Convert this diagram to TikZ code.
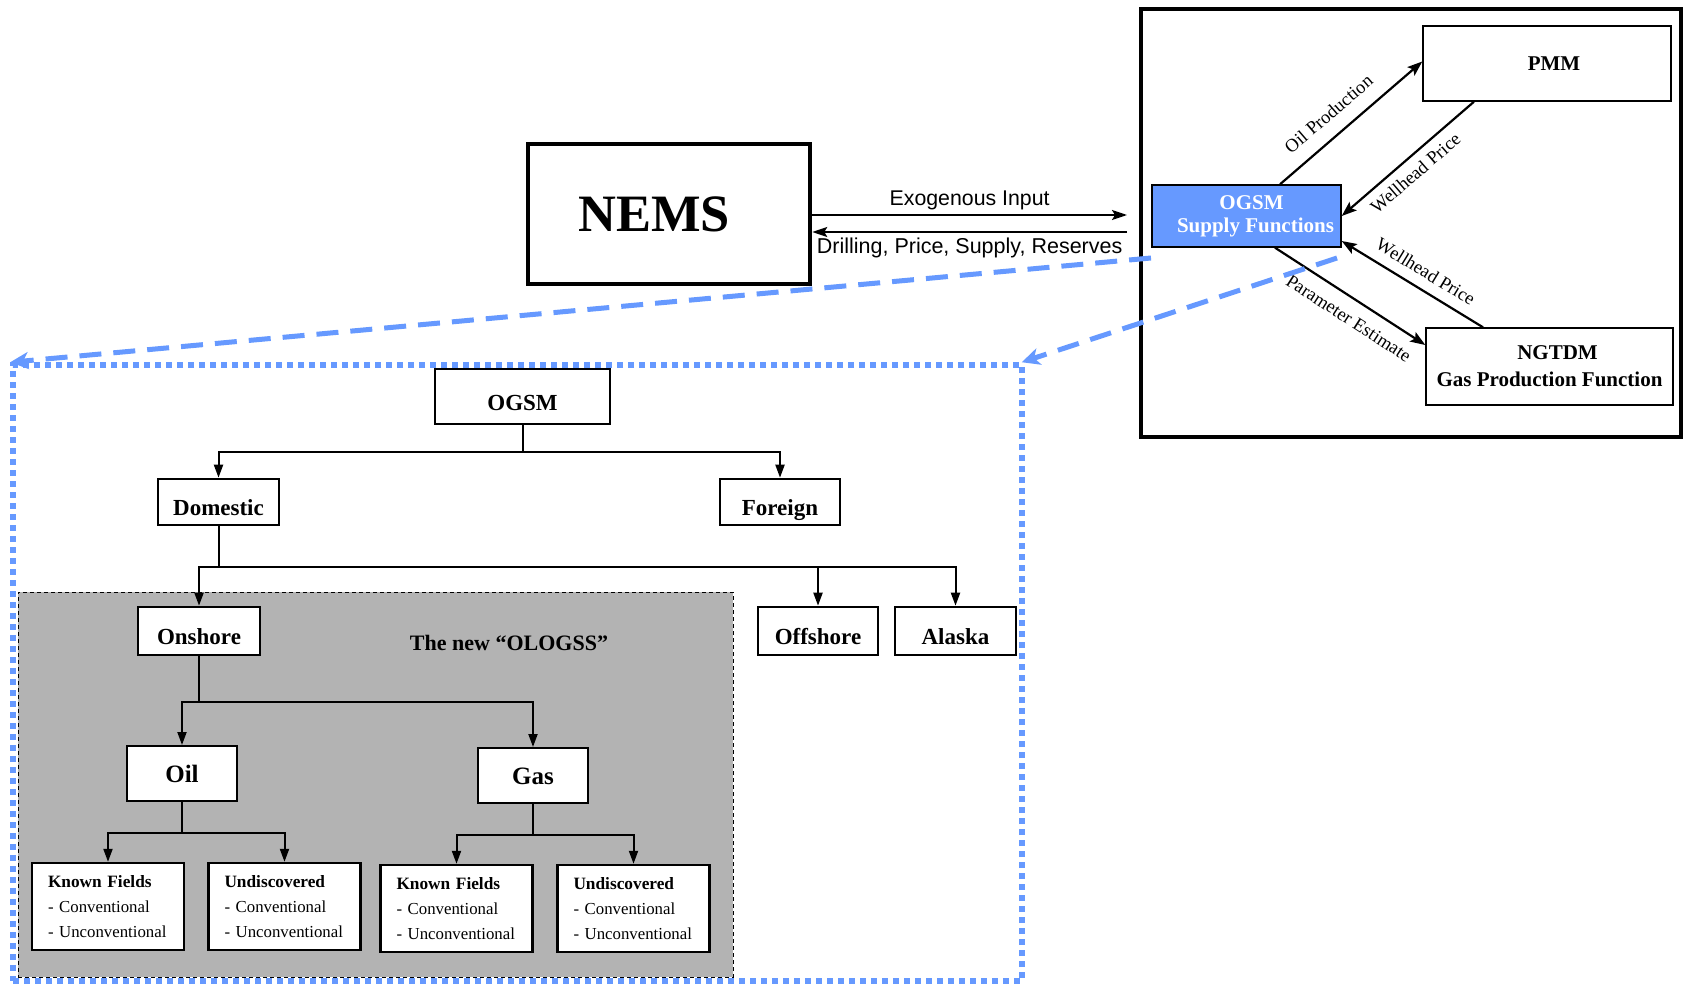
\documentclass[tikz,border=0pt]{standalone}
\usepackage{fontspec}
\setmainfont{Liberation Serif}
\newfontfamily\helv{Liberation Sans}
\usetikzlibrary{arrows.meta}
\definecolor{bblue}{HTML}{6699FF}
\definecolor{gbox}{HTML}{B3B3B3}
\begin{document}
\begin{tikzpicture}[x=1pt,y=-1pt,
  tbox/.style={draw, line width=2.6pt, fill=white, inner sep=0pt, font=\bfseries\fontsize{23}{26}\selectfont, text height=27pt, text depth=0pt},
  obox/.style={draw, line width=2pt, fill=white, inner sep=0pt, font=\bfseries\fontsize{25}{28}\selectfont, text height=17pt, text depth=0pt},
  leaf/.style={draw, line width=2.4pt, fill=white, inner xsep=16pt, inner ysep=0pt, align=left, text width=120pt, minimum width=152pt, minimum height=87pt, font=\fontsize{16.8}{24.7}\selectfont},
  rbox/.style={draw, line width=1.4pt, fill=white, inner sep=0pt, font=\bfseries\fontsize{21}{27}\selectfont, align=center},
  tarrow/.style={line width=2pt, -{Triangle[length=13pt,width=9pt]}},
  rarrow/.style={line width=2.2pt, -{Stealth[length=15pt,width=11pt,inset=3pt]}},
  barrow/.style={bblue, line width=5pt, dash pattern=on 22pt off 12pt, -{Stealth[length=18pt,width=17pt,inset=5pt]}},
  lbl/.style={font=\fontsize{18.5}{20}\selectfont, inner sep=2pt},
]
\useasboundingbox (0,0) rectangle (1683,984);

% ---------- right frame ----------
\node[draw, line width=4.5pt, minimum width=540pt, minimum height=428pt, inner sep=0pt] (rframe) at (1411,223) {};
\node[rbox, minimum width=248pt, minimum height=75pt] (pmm) at (1547,63.5) {\hspace*{14pt}PMM};
\node[rbox, fill=bblue, text=white, minimum width=189pt, minimum height=62pt, font=\bfseries\fontsize{21}{23}\selectfont] (ogsms) at (1246.5,216) {\hspace*{10pt}OGSM\\\hspace*{18pt}Supply Functions};
\node[rbox, minimum width=247pt, minimum height=77pt] (ngtdm) at (1549.5,366.5) {\hspace*{16pt}NGTDM\\Gas Production Function};

\draw[rarrow] ([xshift=33.5pt]ogsms.north) -- node[lbl, pos=0.44, sloped, above=12pt] {Oil Production} ([yshift=2pt]pmm.west);
\draw[rarrow] ([xshift=-73pt]pmm.south) -- node[lbl, pos=0.52, sloped, below=6pt] {Wellhead Price} (ogsms.east);
\draw[rarrow] ([xshift=-66.5pt]ngtdm.north) -- node[lbl, pos=0.47, sloped, above=8pt] {Wellhead Price} ([yshift=-25pt]ogsms.east);
\draw[rarrow] ([xshift=28.5pt]ogsms.south) -- node[lbl, pos=0.56, sloped, below=10pt] {Parameter Estimate} ([yshift=21.5pt]ngtdm.west);

% ---------- NEMS ----------
\node[draw, line width=4.5pt, minimum width=282pt, minimum height=140pt, inner sep=0pt] (nems) at (669,214) {};
\node[font=\bfseries\fontsize{52.5}{56}\selectfont, inner sep=0pt] (nemst) at (654,214) {NEMS};
\coordinate (exend) at (1127,215);
\coordinate (drst) at (1127,232);
\draw[line width=2pt, -{Stealth[length=15pt,width=10pt,inset=3pt]}] ([yshift=-1pt]nems.east) -- node[above=4pt, font=\helv\fontsize{21.3}{22}\selectfont, inner sep=0pt] {Exogenous Input} (exend);
\draw[line width=2pt, -{Stealth[length=15pt,width=10pt,inset=3pt]}] (drst) -- node[below=5pt, font=\helv\fontsize{21.5}{22}\selectfont, inner sep=0pt] {Drilling, Price, Supply, Reserves} ([yshift=-18pt]nems.east);

% ---------- gray OLOGSS area ----------
\node[draw, fill=gbox, line width=1pt, dash pattern=on 4pt off 3pt, minimum width=715pt, minimum height=385pt, inner sep=0pt] (olog) at (375.5,784.5) {};
\node[font=\bfseries\fontsize{22}{24}\selectfont, inner sep=0pt] (ologt) at (509,643) {The new ``OLOGSS''};

% ---------- tree ----------
\node[tbox, minimum width=175pt, minimum height=55pt] (ogsm) at (522.5,396.5) {OGSM};
\node[tbox, minimum width=121pt, minimum height=46pt] (dom) at (218.5,502) {Domestic};
\node[tbox, minimum width=120pt, minimum height=46pt] (for) at (780,502) {Foreign};
\node[tbox, minimum width=122pt, minimum height=48pt] (on) at (199,631) {Onshore};
\node[tbox, minimum width=120pt, minimum height=48pt] (off) at (818,631) {Offshore};
\node[tbox, minimum width=121pt, minimum height=48pt] (ala) at (955.5,631) {Alaska};
\node[obox, minimum width=110pt, minimum height=55pt] (oil) at (182,773.5) {Oil};
\node[obox, minimum width=110pt, minimum height=55pt] (gas) at (533,775.5) {Gas};
\node[leaf] (ok) at (108,906.5) {\textbf{\fontsize{17.3}{24.7}\selectfont Known Fields}\\- Conventional\\- Unconventional};
\node[leaf] (ou) at (284.5,906.5) {\textbf{\fontsize{17.3}{24.7}\selectfont Undiscovered}\\- Conventional\\- Unconventional};
\node[leaf, minimum width=151pt] (gk) at (456.5,908.5) {\textbf{\fontsize{17.3}{24.7}\selectfont Known Fields}\\- Conventional\\- Unconventional};
\node[leaf, minimum width=151pt] (gu) at (633.5,908.5) {\textbf{\fontsize{17.3}{24.7}\selectfont Undiscovered}\\- Conventional\\- Unconventional};

\draw[tarrow] (ogsm.south) -- ++(0,27) -| (dom.north);
\draw[tarrow] (ogsm.south) -- ++(0,27) -| (for.north);
\draw[tarrow] (dom.south) -- ++(0,41) -| (on.north);
\draw[tarrow] (dom.south) -- ++(0,41) -| (off.north);
\draw[tarrow] (dom.south) -- ++(0,41) -| (ala.north);
\draw[tarrow] (on.south) -- ++(0,46) -| (oil.north);
\draw[tarrow] (on.south) -- ++(0,46) -| (gas.north);
\draw[tarrow] (oil.south) -- ++(0,31) -| (ok.north);
\draw[tarrow] (oil.south) -- ++(0,31) -| (ou.north);
\draw[tarrow] (gas.south) -- ++(0,31) -| (gk.north);
\draw[tarrow] (gas.south) -- ++(0,31) -| (gu.north);

% ---------- blue dotted frame and zoom lines ----------
\node[draw=bblue, line width=5.5pt, dash pattern=on 6pt off 5pt, minimum width=1009pt, minimum height=616pt, inner sep=0pt] (zframe) at (517.5,673) {};
\coordinate (z1) at (1151,258);
\coordinate (z2) at (1337,258);
\draw[barrow] (z1) -- (zframe.north west);
\draw[barrow] (z2) -- ([xshift=-3pt]zframe.north east);
\end{tikzpicture}
\end{document}
